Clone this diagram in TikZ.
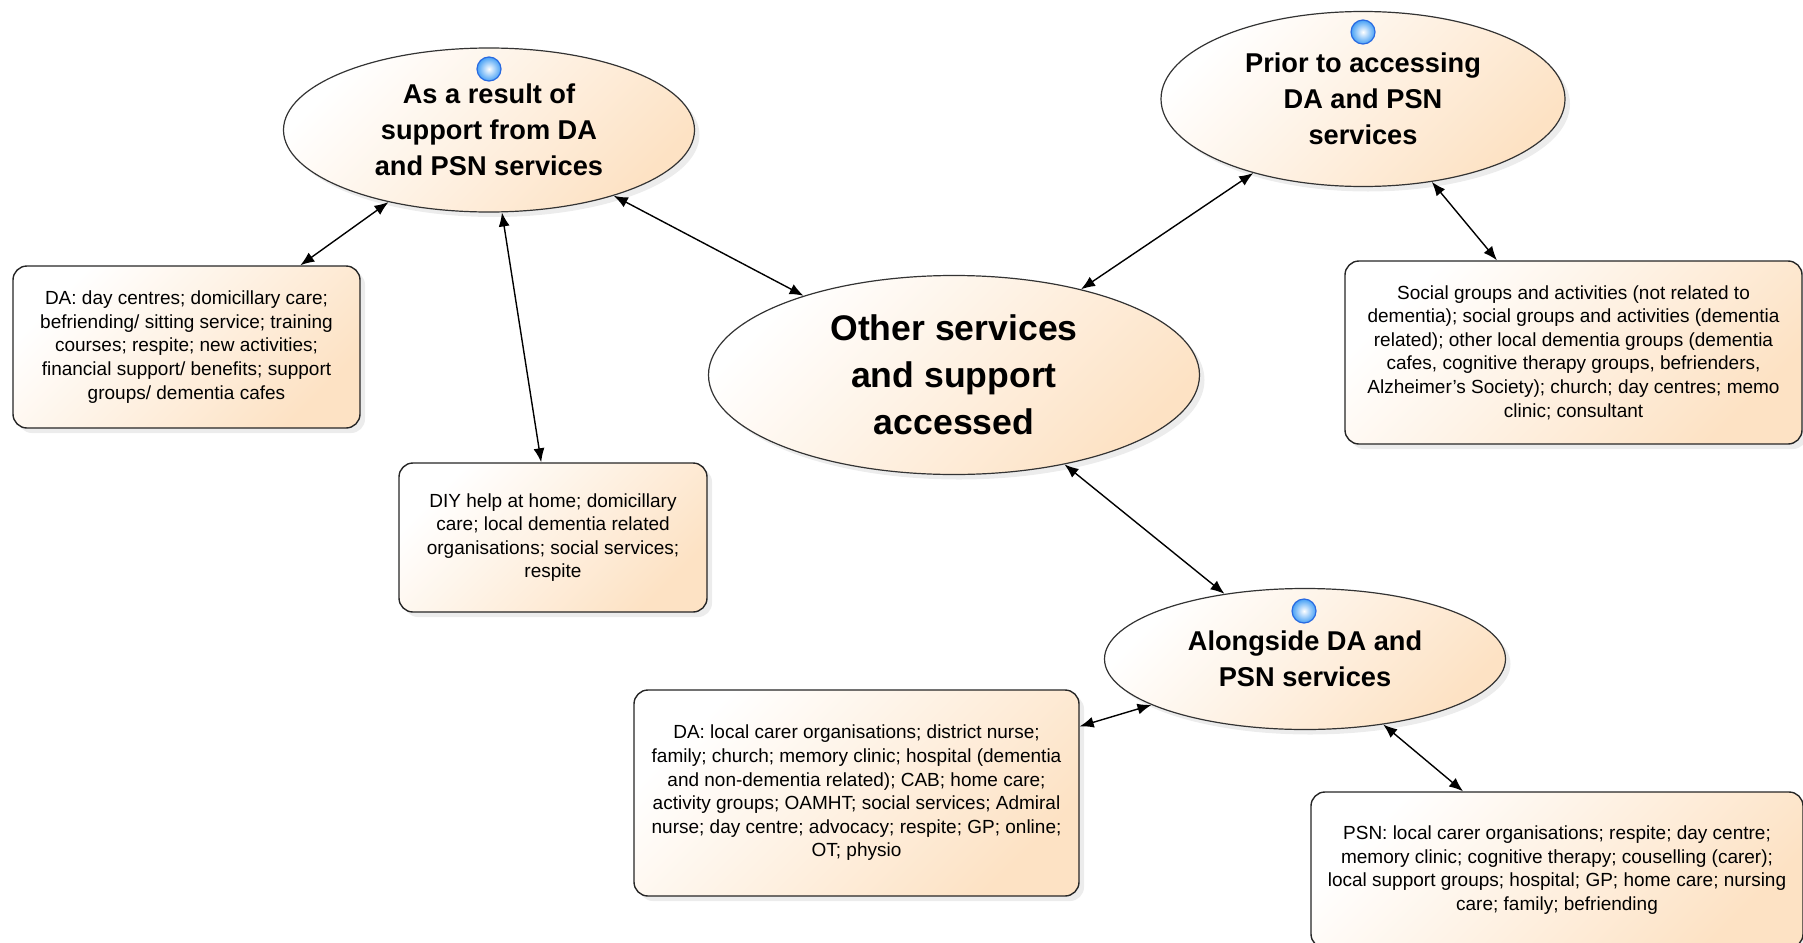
\documentclass[tikz,border=0pt]{standalone}
\usepackage{fontspec}
\setmainfont{Liberation Sans}
\usetikzlibrary{arrows.meta,shapes.geometric,shadows}
\definecolor{peach}{RGB}{253,226,196}
\definecolor{ballblue}{RGB}{70,160,245}
\definecolor{ballrim}{RGB}{40,105,225}

\begin{document}
\begin{tikzpicture}[x=0.5pt,y=-0.5pt,>={Latex[length=7pt,width=5.5pt]},line width=0.7pt]
	\tikzset{phase/.style = {ellipse,draw=black!80,line width=0.6pt,top color=white,bottom color=peach,shading angle=45,
		drop shadow={shadow xshift=2.5pt,shadow yshift=-2.5pt,opacity=0.15},align=center,inner sep=0pt,
		font=\fontsize{13.6}{18}\selectfont\bfseries}}
	\tikzset{info/.style = {rectangle,rounded corners=7pt,draw=black!85,line width=0.7pt,top color=white,bottom color=peach,shading angle=45,
		drop shadow={shadow xshift=2.5pt,shadow yshift=-2.5pt,opacity=0.15},align=center,
		font=\fontsize{9.5}{11.8}\selectfont}}
	\tikzset{marker/.style = {circle,inner color=white,outer color=ballblue,draw=ballrim,line width=0.6pt,minimum size=12pt,inner sep=0pt}}
	\tikzset{link/.style = {<->}}

	\useasboundingbox (0,0) rectangle (1803,942);
	\clip (0,0) rectangle (1803,942);

	% phases
	\node[phase,minimum width=205.5pt,minimum height=82pt] (res) at (489,130) {As a result of\\support from DA\\and PSN services};
	\node[phase,minimum width=202pt,minimum height=87.5pt] (prior) at (1363,99) {Prior to accessing\\DA and PSN\\services};
	\node[phase,minimum width=245.5pt,minimum height=99.5pt,font=\fontsize{17.8}{23.5}\selectfont\bfseries] (other) at (954,375) {Other services\\and support\\accessed};
	\node[phase,minimum width=200.5pt,minimum height=70.5pt] (along) at (1305,659) {Alongside DA and\\PSN services};

	% service lists
	\node[info,minimum width=173.5pt,minimum height=81pt] (dabox) at (186.5,347) {DA: day centres; domicillary care;\\befriending/ sitting service; training\\courses; respite; new activities;\\financial support/ benefits; support\\groups/ dementia cafes};
	\node[info,minimum width=154pt,minimum height=74.5pt] (diy) at (553,537.5) {DIY help at home; domicillary\\care; local dementia related\\organisations; social services;\\respite};
	\node[info,minimum width=228.5pt,minimum height=91.5pt] (social) at (1573.5,352.5) {Social groups and activities (not related to\\dementia); social groups and activities (dementia\\related);  other local dementia groups (dementia\\cafes, cognitive therapy groups, befrienders,\\Alzheimer's Society); church; day centres; memo\\clinic; consultant};
	\node[info,minimum width=222.5pt,minimum height=103pt] (dalocal) at (856.5,793) {DA: local carer organisations; district nurse;\\family; church; memory clinic; hospital (dementia\\and non-dementia related); CAB; home care;\\activity groups; OAMHT; social services; Admiral\\nurse; day centre; advocacy; respite; GP; online;\\OT; physio};
	\node[info,minimum width=246pt,minimum height=78pt] (psn) at (1557,870) {PSN: local carer organisations; respite; day centre;\\memory clinic; cognitive therapy; couselling (carer);\\local support groups; hospital; GP; home care; nursing\\care; family; befriending};

	% markers
	\node[marker] (resdot) at (489,69) {};
	\node[marker] (priordot) at (1363,32) {};
	\node[marker] (alongdot) at (1304,611) {};

	% links
	\draw[link] (dabox) -- (res);
	\draw[link] (diy) -- (res);
	\draw[link] (res) -- (other);
	\draw[link] (other) -- (prior);
	\draw[link] (prior) -- (social);
	\draw[link] (other) -- (along);
	\draw[link] (along) -- (dalocal);
	\draw[link] (along) -- (psn);

\end{tikzpicture}
\end{document}
